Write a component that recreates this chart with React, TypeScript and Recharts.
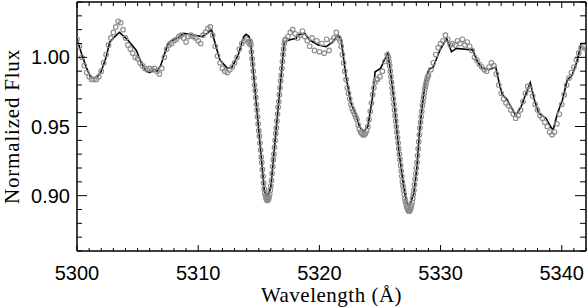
import { ComposedChart, Line, Scatter, XAxis, YAxis } from 'recharts';

// observed spectrum (denser sampling on the steep line wings)
const obsWave = [
  5300.0, 5300.2, 5300.4, 5300.6, 5300.8, 5301.0, 5301.2, 5301.4, 5301.6, 5301.8,
  5302.0, 5302.2, 5302.4, 5302.6, 5302.8, 5303.0, 5303.2, 5303.4, 5303.6, 5303.8,
  5304.0, 5304.2, 5304.4, 5304.6, 5304.8, 5305.0, 5305.2, 5305.4, 5305.6, 5305.8,
  5306.0, 5306.2, 5306.4, 5306.6, 5306.8, 5307.0, 5307.2, 5307.4, 5307.6, 5307.8,
  5308.0, 5308.2, 5308.4, 5308.6, 5308.8, 5309.0, 5309.2, 5309.4, 5309.6, 5309.8,
  5310.0, 5310.2, 5310.4, 5310.6, 5310.8, 5311.0, 5311.2, 5311.4, 5311.6, 5311.8,
  5312.0, 5312.2, 5312.4, 5312.6, 5312.8, 5313.0, 5313.2, 5313.4, 5313.6, 5313.8,
  5314.0, 5314.2,
  5314.25, 5314.3, 5314.35, 5314.4, 5314.45, 5314.5, 5314.55, 5314.6, 5314.65, 5314.7,
  5314.75, 5314.8, 5314.85, 5314.9, 5314.95,
  5315.0, 5315.05, 5315.1, 5315.15, 5315.2, 5315.25, 5315.3, 5315.35, 5315.4, 5315.45,
  5315.5, 5315.55, 5315.6, 5315.65, 5315.7, 5315.75, 5315.8, 5315.85, 5315.9, 5315.95,
  5316.0, 5316.05, 5316.1, 5316.15, 5316.2, 5316.25, 5316.3, 5316.35, 5316.4, 5316.45,
  5316.5, 5316.55, 5316.6, 5316.65, 5316.7, 5316.75, 5316.8, 5316.85, 5316.9, 5316.95,
  5317.0, 5317.05, 5317.1, 5317.15,
  5317.2, 5317.4, 5317.6, 5317.8, 5318.0, 5318.2, 5318.4, 5318.6, 5318.8, 5319.0,
  5319.2, 5319.4, 5319.6, 5319.8, 5320.0, 5320.2, 5320.4, 5320.6, 5320.8, 5321.0,
  5321.2, 5321.4, 5321.6,
  5321.7, 5321.8, 5321.9, 5322.0, 5322.1, 5322.2, 5322.3, 5322.4, 5322.5, 5322.6,
  5322.7, 5322.8, 5322.9, 5323.0, 5323.1, 5323.2, 5323.3, 5323.4, 5323.5, 5323.6,
  5323.7, 5323.8, 5323.9, 5324.0, 5324.1, 5324.2, 5324.3, 5324.4, 5324.5, 5324.6,
  5324.7,
  5324.8, 5325.0, 5325.2, 5325.4, 5325.6,
  5325.7, 5325.75, 5325.8, 5325.85, 5325.9, 5325.95,
  5326.0, 5326.05, 5326.1, 5326.15, 5326.2, 5326.25, 5326.3, 5326.35, 5326.4, 5326.45,
  5326.5, 5326.55, 5326.6, 5326.65, 5326.7, 5326.75, 5326.8, 5326.85, 5326.9, 5326.95,
  5327.0, 5327.05, 5327.1, 5327.15, 5327.2, 5327.25, 5327.3, 5327.35, 5327.4, 5327.45,
  5327.5, 5327.55, 5327.6, 5327.65, 5327.7, 5327.75, 5327.8, 5327.85, 5327.9, 5327.95,
  5328.0, 5328.05, 5328.1, 5328.15, 5328.2, 5328.25, 5328.3, 5328.35, 5328.4, 5328.45,
  5328.5, 5328.55, 5328.6, 5328.65, 5328.7, 5328.75, 5328.8, 5328.85, 5328.9, 5328.95,
  5329.0,
  5329.2, 5329.4, 5329.6, 5329.8,
  5330.0, 5330.2, 5330.4, 5330.6, 5330.8, 5331.0, 5331.2, 5331.4, 5331.6, 5331.8,
  5332.0, 5332.2, 5332.4, 5332.6, 5332.8, 5333.0, 5333.2, 5333.4, 5333.6, 5333.8,
  5334.0, 5334.2, 5334.4, 5334.6, 5334.8, 5335.0, 5335.2, 5335.4, 5335.6, 5335.8,
  5336.0, 5336.2, 5336.4, 5336.6, 5336.8, 5337.0, 5337.2, 5337.4, 5337.6, 5337.8,
  5338.0, 5338.2, 5338.4, 5338.6, 5338.8, 5339.0, 5339.2, 5339.4, 5339.6, 5339.8,
  5340.0, 5340.2, 5340.4, 5340.6, 5340.8, 5341.0, 5341.2, 5341.4, 5341.6, 5341.8,
  5342.0,
];
const obsFlux = [
  1.013, 1.008, 1.000, 0.994, 0.989, 0.986, 0.984, 0.984, 0.984, 0.986,
  0.990, 0.996, 1.002, 1.009, 1.014, 1.018, 1.022, 1.026, 1.025, 1.020,
  1.014, 1.009, 1.006, 1.003, 1.000, 0.999, 0.996, 0.994, 0.992, 0.991,
  0.992, 0.991, 0.992, 0.990, 0.988, 0.992, 1.000, 1.006, 1.009, 1.010,
  1.012, 1.013, 1.015, 1.016, 1.014, 1.011, 1.015, 1.016, 1.015, 1.014,
  1.012, 1.010, 1.016, 1.018, 1.021, 1.022, 1.016, 1.008, 1.001, 0.996,
  0.992, 0.990, 0.989, 0.991, 0.993, 0.996, 1.000, 1.006, 1.010, 1.012,
  1.013, 1.010,
  1.012, 1.011, 1.009, 1.004, 0.999, 0.995, 0.990, 0.985, 0.980, 0.976,
  0.971, 0.966, 0.962, 0.957, 0.952,
  0.947, 0.943, 0.938, 0.933, 0.928, 0.924, 0.919, 0.914, 0.909, 0.905,
  0.902, 0.900, 0.898, 0.897, 0.8965, 0.897, 0.8975, 0.899, 0.901, 0.904,
  0.907, 0.911, 0.916, 0.921, 0.926, 0.930, 0.935, 0.940, 0.945, 0.949,
  0.954, 0.959, 0.964, 0.968, 0.973, 0.978, 0.983, 0.987, 0.992, 0.997,
  1.002, 1.006, 1.010, 1.012,
  1.013, 1.015, 1.018, 1.020, 1.017, 1.014, 1.016, 1.019, 1.015, 1.012,
  1.008, 1.014, 1.005, 1.012, 1.004, 1.010, 1.003, 1.013, 1.005, 1.012,
  1.014, 1.018, 1.014,
  1.012, 1.008, 1.002, 0.996, 0.990, 0.984, 0.978, 0.974, 0.970, 0.966,
  0.963, 0.961, 0.959, 0.957, 0.955, 0.951, 0.948, 0.946, 0.945, 0.944,
  0.944, 0.945, 0.947, 0.950, 0.955, 0.961, 0.967, 0.973, 0.978, 0.982,
  0.984,
  0.984, 0.986, 0.990, 0.997, 1.002,
  1.000, 0.997, 0.994, 0.990, 0.986, 0.982,
  0.978, 0.974, 0.970, 0.966, 0.962, 0.958, 0.954, 0.950, 0.946, 0.942,
  0.938, 0.934, 0.930, 0.926, 0.922, 0.918, 0.914, 0.910, 0.907, 0.904,
  0.901, 0.898, 0.896, 0.894, 0.892, 0.891, 0.890, 0.889, 0.889, 0.889,
  0.890, 0.891, 0.893, 0.895, 0.898, 0.901, 0.904, 0.908, 0.912, 0.916,
  0.920, 0.924, 0.929, 0.934, 0.939, 0.944, 0.949, 0.953, 0.957, 0.961,
  0.965, 0.968, 0.971, 0.974, 0.977, 0.979, 0.981, 0.983, 0.985, 0.986,
  0.987,
  0.991, 0.996, 1.002, 1.007,
  1.010, 1.012, 1.016, 1.013, 1.009, 1.010, 1.009, 1.012, 1.010, 1.013,
  1.009, 1.011, 1.008, 1.005, 1.000, 0.998, 0.995, 0.993, 0.991, 0.990,
  0.993, 0.996, 0.994, 0.988, 0.980, 0.974, 0.970, 0.967, 0.965, 0.962,
  0.959, 0.956, 0.958, 0.962, 0.968, 0.974, 0.979, 0.977, 0.972, 0.966,
  0.962, 0.958, 0.956, 0.953, 0.950, 0.946, 0.944, 0.946, 0.952, 0.959,
  0.966, 0.973, 0.980, 0.985, 0.989, 0.993, 0.998, 1.003, 1.007, 1.008,
  1.006,
];

// synthetic model spectrum
const modelWave = [
  5300.0, 5300.4, 5300.8, 5301.1, 5301.4, 5301.7, 5302.0, 5302.4, 5302.7, 5303.0,
  5303.5, 5304.2, 5304.9, 5305.3, 5305.7, 5306.0, 5306.2, 5306.4, 5306.6, 5306.9,
  5307.2, 5307.55, 5307.8, 5308.3, 5308.8, 5309.75, 5310.3, 5310.7, 5311.1, 5311.4,
  5311.8, 5312.4, 5312.8, 5313.3, 5313.75, 5313.95, 5314.2, 5314.35, 5314.8, 5315.2,
  5315.45, 5315.7, 5316.0, 5316.4, 5316.7, 5316.9, 5317.1, 5317.5, 5318.1, 5318.15,
  5318.8, 5319.2, 5319.9, 5320.55, 5321.1, 5321.55, 5321.8, 5322.2, 5322.6, 5323.05,
  5323.3, 5323.65, 5324.0, 5324.35, 5324.6, 5325.05, 5325.3, 5325.65, 5325.85, 5326.15,
  5326.55, 5326.95, 5327.2, 5327.45, 5327.8, 5328.05, 5328.25, 5328.45, 5328.55, 5328.8,
  5329.05, 5329.4, 5329.95, 5330.5, 5330.9, 5331.3, 5332.65, 5333.05, 5333.45, 5334.0,
  5334.55, 5334.85, 5335.1, 5335.45, 5335.8, 5336.2, 5336.65, 5337.0, 5337.4, 5337.75,
  5338.1, 5338.7, 5339.15, 5339.3, 5339.65, 5340.05, 5340.45, 5340.85, 5341.25, 5341.6,
  5342.0,
];
const modelFlux = [
  1.013, 1.002, 0.992, 0.986, 0.985, 0.986, 0.990, 1.000, 1.011, 1.014,
  1.018, 1.0125, 1.005, 0.996, 0.990, 0.989, 0.990, 0.991, 0.990, 0.994,
  1.002, 1.0105, 1.012, 1.014, 1.0173, 1.016, 1.015, 1.017, 1.020, 1.010,
  0.998, 0.992, 0.993, 1.0017, 1.015, 1.0166, 1.015, 1.009, 0.966, 0.928,
  0.904, 0.8975, 0.9066, 0.945, 0.973, 0.992, 1.011, 1.0125, 1.0137, 1.016,
  1.0173, 1.0125, 1.009, 1.0077, 1.011, 1.016, 1.0125, 0.986, 0.967, 0.958,
  0.950, 0.9463, 0.950, 0.969, 0.9896, 0.992, 0.9968, 1.003, 0.991, 0.969,
  0.933, 0.9066, 0.8947, 0.8927, 0.902, 0.921, 0.945, 0.962, 0.969, 0.986,
  0.9913, 0.993, 1.0053, 1.0137, 1.004, 1.0065, 1.0053, 0.9968, 0.992, 0.991,
  0.993, 0.981, 0.9728, 0.970, 0.9644, 0.958, 0.9644, 0.9728, 0.9817, 0.969,
  0.9596, 0.956, 0.9488, 0.948, 0.9596, 0.969, 0.9836, 0.987, 0.9968, 1.010,
  1.010,
];

const xTicks = [
  5300, 5301, 5302, 5303, 5304, 5305, 5306, 5307, 5308, 5309,
  5310, 5311, 5312, 5313, 5314, 5315, 5316, 5317, 5318, 5319,
  5320, 5321, 5322, 5323, 5324, 5325, 5326, 5327, 5328, 5329,
  5330, 5331, 5332, 5333, 5334, 5335, 5336, 5337, 5338, 5339,
  5340, 5341, 5342,
];
const xMajor = [5300, 5310, 5320, 5330, 5340];
const yTicks = [
  0.86, 0.87, 0.88, 0.89, 0.90, 0.91, 0.92, 0.93, 0.94, 0.95,
  0.96, 0.97, 0.98, 0.99, 1.00, 1.01, 1.02, 1.03, 1.04,
];
const yMajor = [0.90, 0.95, 1.00];

const obsData = obsWave.map((w, i) => ({ w, f: obsFlux[i] }));
const modelData = modelWave.map((w, i) => ({ w, f: modelFlux[i] }));

const isXMajor = (v: number) => xMajor.includes(v);
const isYMajor = (v: number) => yMajor.some((m) => Math.abs(m - v) < 1e-6);

const tickFont = '"Liberation Sans", Arial, sans-serif';
const titleFont = '"Liberation Serif", "Times New Roman", serif';

const BottomTick = ({ x, y, payload }: any) => {
  const major = isXMajor(payload.value);
  return (
    <g>
      <line x1={x} x2={x} y1={y} y2={y - (major ? 6 : 3)} stroke="#000" strokeWidth={1} />
      {major && (
        <text x={x} y={y + 29} textAnchor="middle" fontSize={20} fontFamily={tickFont} fill="#000">
          {payload.value}
        </text>
      )}
    </g>
  );
};

const TopTick = ({ x, y, payload }: any) => {
  const major = isXMajor(payload.value);
  return <line x1={x} x2={x} y1={y} y2={y + (major ? 6 : 4)} stroke="#000" strokeWidth={1} />;
};

const LeftTick = ({ x, y, payload }: any) => {
  const major = isYMajor(payload.value);
  return (
    <g>
      <line x1={x} x2={x + (major ? 10 : 5)} y1={y} y2={y} stroke="#000" strokeWidth={1} />
      {major && (
        <text x={x - 7} y={y + 7} textAnchor="end" fontSize={20} fontFamily={tickFont} fill="#000">
          {payload.value.toFixed(2)}
        </text>
      )}
    </g>
  );
};

const RightTick = ({ x, y, payload }: any) => {
  const major = isYMajor(payload.value);
  return <line x1={x} x2={x - (major ? 11 : 6)} y1={y} y2={y} stroke="#000" strokeWidth={1} />;
};

const ObsDot = ({ cx, cy }: any) => (
  <circle cx={cx} cy={cy} r={2.3} fill="none" stroke="#8c8c8c" strokeWidth={1.1} />
);

const XTitle = ({ viewBox }: any) => (
  <text
    x={viewBox.x + viewBox.width / 2}
    y={viewBox.y + viewBox.height - 6}
    textAnchor="middle"
    fontSize={21}
    letterSpacing={0.5}
    fontFamily={titleFont}
    fill="#000"
  >
    Wavelength (Å)
  </text>
);

const YTitle = ({ viewBox }: any) => {
  const cx = viewBox.x + 19;
  const cy = viewBox.y + viewBox.height / 2;
  return (
    <text
      x={cx}
      y={cy}
      transform={`rotate(-90, ${cx}, ${cy})`}
      textAnchor="middle"
      fontSize={21}
      letterSpacing={0.8}
      fontFamily={titleFont}
      fill="#000"
    >
      Normalized Flux
    </text>
  );
};

export default function App() {
  return (
    <div style={{ position: 'absolute', left: 0, top: 0, background: '#fff' }}>
      <ComposedChart width={588} height={308} margin={{ top: 1, right: 1, bottom: 0, left: 0 }}>
        <XAxis
          xAxisId="b"
          type="number"
          dataKey="w"
          domain={[5300, 5342]}
          allowDataOverflow
          ticks={xTicks}
          interval={0}
          tickSize={0}
          tickMargin={0}
          tickLine={false}
          tick={<BottomTick />}
          axisLine={{ stroke: '#000', strokeWidth: 1.5 }}
          height={57}
          label={<XTitle />}
        />
        <XAxis
          xAxisId="t"
          orientation="top"
          type="number"
          dataKey="w"
          domain={[5300, 5342]}
          allowDataOverflow
          ticks={xTicks}
          interval={0}
          tickSize={0}
          tickMargin={0}
          tickLine={false}
          tick={<TopTick />}
          axisLine={{ stroke: '#000', strokeWidth: 1.5 }}
          height={1}
        />
        <YAxis
          yAxisId="l"
          type="number"
          dataKey="f"
          domain={[0.86, 1.04]}
          allowDataOverflow
          ticks={yTicks}
          interval={0}
          tickSize={0}
          tickMargin={0}
          tickLine={false}
          tick={<LeftTick />}
          axisLine={{ stroke: '#000', strokeWidth: 1.5 }}
          width={77}
          label={<YTitle />}
        />
        <YAxis
          yAxisId="r"
          orientation="right"
          type="number"
          dataKey="f"
          domain={[0.86, 1.04]}
          allowDataOverflow
          ticks={yTicks}
          interval={0}
          tickSize={0}
          tickMargin={0}
          tickLine={false}
          tick={<RightTick />}
          axisLine={{ stroke: '#000', strokeWidth: 1.5 }}
          width={1}
        />
        <Scatter
          xAxisId="b"
          yAxisId="l"
          data={obsData}
          dataKey="f"
          shape={<ObsDot />}
          isAnimationActive={false}
        />
        {/* invisible copy so the top and right frame axes get drawn */}
        <Line
          xAxisId="t"
          yAxisId="r"
          data={modelData}
          dataKey="f"
          stroke="none"
          dot={false}
          activeDot={false}
          legendType="none"
          isAnimationActive={false}
        />
        <Line
          xAxisId="b"
          yAxisId="l"
          data={modelData}
          dataKey="f"
          type="linear"
          stroke="#000"
          strokeWidth={1.6}
          dot={false}
          activeDot={false}
          isAnimationActive={false}
        />
      </ComposedChart>
    </div>
  );
}
